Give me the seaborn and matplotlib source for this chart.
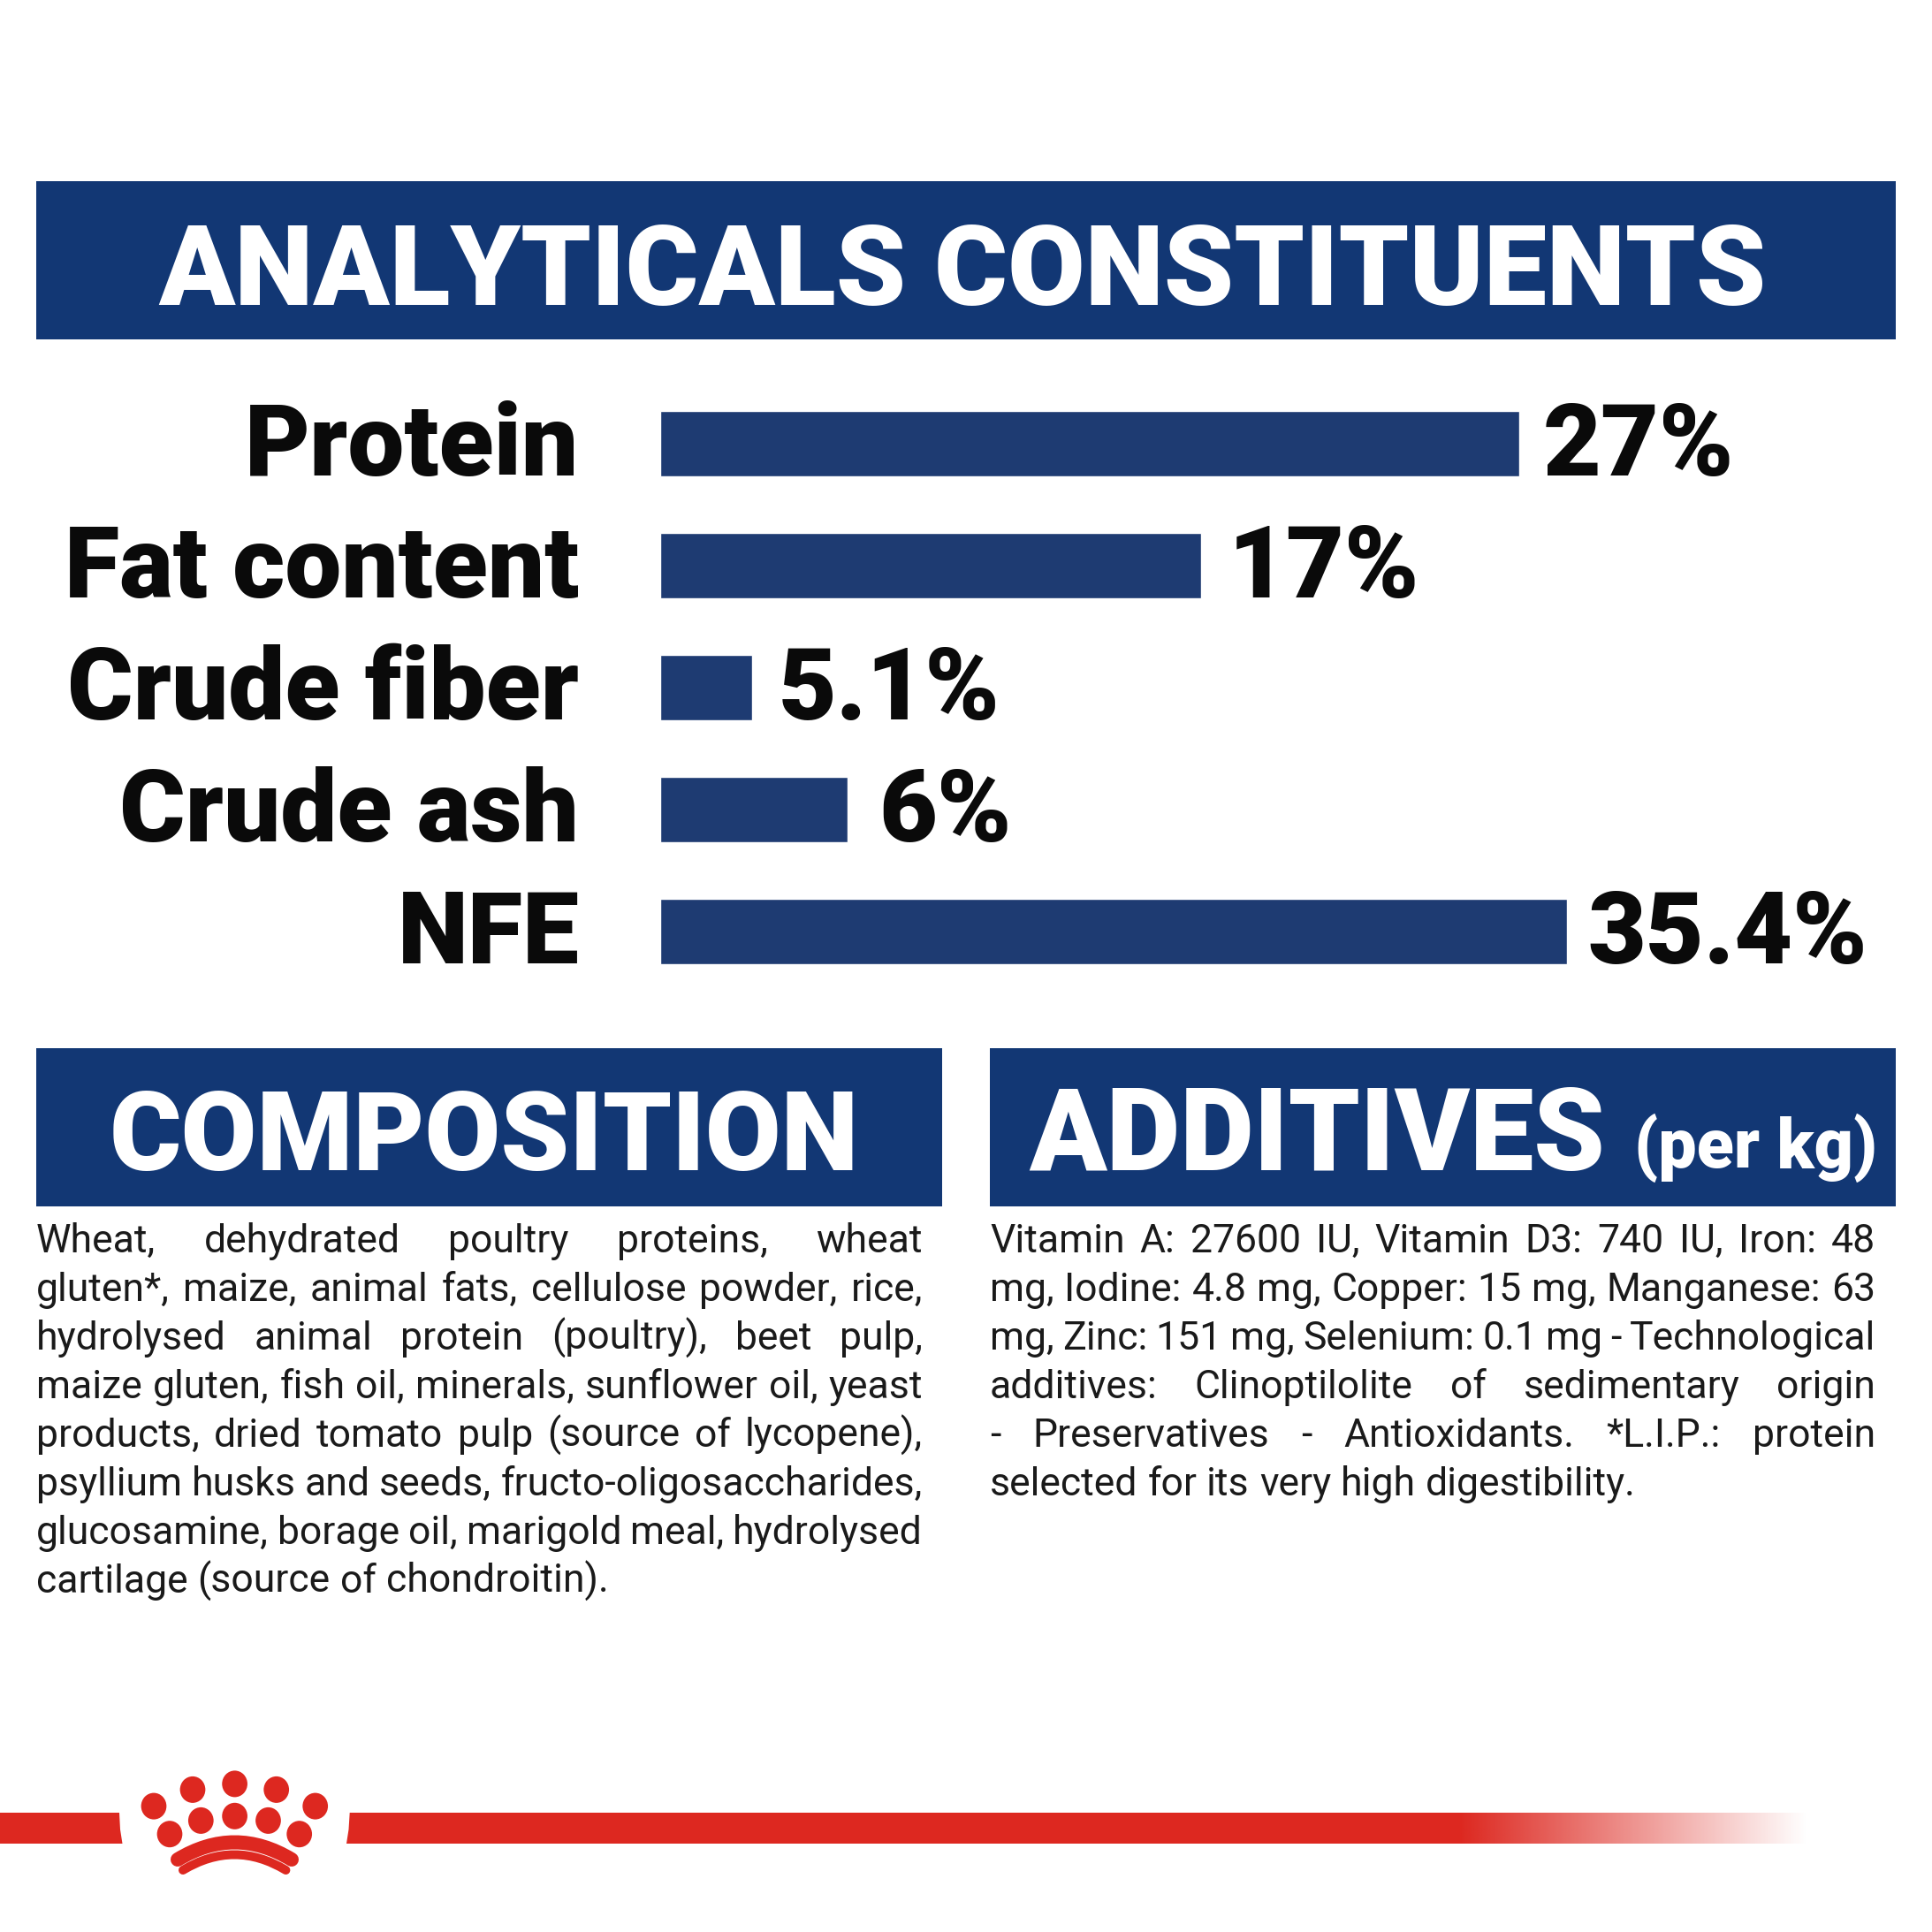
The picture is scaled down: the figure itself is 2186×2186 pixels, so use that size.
#!/usr/bin/env python3
"""Analytical constituents panel: bar chart, headers, justified ingredient text, crown logo."""
import matplotlib
matplotlib.use("Agg")
import matplotlib.pyplot as plt
import numpy as np
import pandas as pd
import seaborn as sns
from matplotlib.patches import Ellipse, PathPatch, Polygon, Rectangle
from matplotlib.path import Path
from matplotlib.transforms import ScaledTranslation

SIZE = 2186
NAVY = "#123774"
BAR_COLOR = "#1E3B72"
RED = "#DD2820"
INK = "#0A0A0A"

TITLE = "ANALYTICALS CONSTITUENTS"
CATEGORIES = ["Protein", "Fat content", "Crude fiber", "Crude ash", "NFE"]
# the drawn bars do not follow the printed percentages, so both are kept
BAR_LENGTHS = [27.0, 17.0, 2.9, 5.9, 28.5]
VALUE_LABELS = ["27%", "17%", "5.1%", "6%", "35.4%"]
LABEL_PADS = [19, 22, 21, 25, 17]

COMPOSITION = [
    "Wheat, dehydrated poultry proteins, wheat",
    "gluten*, maize, animal fats, cellulose powder, rice,",
    "hydrolysed animal protein (poultry), beet pulp,",
    "maize gluten, fish oil, minerals, sunflower oil, yeast",
    "products, dried tomato pulp (source of lycopene),",
    "psyllium husks and seeds, fructo-oligosaccharides,",
    "glucosamine, borage oil, marigold meal, hydrolysed",
    "cartilage (source of chondroitin).",
]
ADDITIVES = [
    "Vitamin A: 27600 IU, Vitamin D3: 740 IU, Iron: 48",
    "mg, Iodine: 4.8 mg, Copper: 15 mg, Manganese: 63",
    "mg, Zinc: 151 mg, Selenium: 0.1 mg - Technological",
    "additives: Clinoptilolite of sedimentary origin",
    "- Preservatives - Antioxidants. *L.I.P.: protein",
    "selected for its very high digestibility.",
]

# logo geometry, in image pixels
CROWN_DOTS = [
    (265.6, 2018.4), (218, 2024.9), (312.7, 2024.9), (174, 2043.6), (356.7, 2043.6),
    (265.6, 2054.8), (227.3, 2059.9), (303.5, 2059.9), (192, 2075.2), (338.7, 2075.2),
]


def justified(deco, renderer, lines, x0, x1, baseline, pitch, font):
    """Place each line word by word, stretching the gaps; the last line stays natural."""
    probe = deco.text(0, 0, "a a", **font)
    spaced = probe.get_window_extent(renderer).width
    probe.set_text("aa")
    space = spaced - probe.get_window_extent(renderer).width
    probe.remove()
    for i, line in enumerate(lines):
        words = [deco.text(0, 0, w, va="baseline", **font) for w in line.split()]
        widths = [w.get_window_extent(renderer).width for w in words]
        gap = space if i == len(lines) - 1 else (x1 - x0 - sum(widths)) / (len(words) - 1)
        x = x0
        for word, width in zip(words, widths):
            word.set_position((x, baseline + i * pitch))
            x += width + gap


def main():
    sns.set_theme(style="white")
    plt.rcParams["font.family"] = ["Roboto", "DejaVu Sans"]

    fig = plt.figure(figsize=(SIZE / 100, SIZE / 100), dpi=100, facecolor="white")

    # full-canvas layer in image pixels, for headers, text and logo
    deco = fig.add_axes([0, 0, 1, 1])
    deco.set_xlim(0, SIZE)
    deco.set_ylim(SIZE, 0)
    deco.axis("off")

    for x0, y0, x1, y1 in [(41, 205, 2145, 384), (41, 1186, 1066, 1365), (1120, 1186, 2145, 1365)]:
        deco.add_patch(Rectangle((x0, y0), x1 - x0, y1 - y0, color=NAVY, lw=0))

    head = dict(color="white", fontweight="black", va="baseline")
    deco.text(1089, 345, TITLE, fontsize=91.4, ha="center", **head)
    deco.text(548, 1324, "COMPOSITION", fontsize=89.6, ha="center", **head)
    deco.text(1164, 1324, "ADDITIVES", fontsize=92.8, ha="left", **head)
    deco.text(1849, 1321, "(per kg)", fontsize=55.5, ha="left", **head)

    # bars: 36 image pixels per unit, rows 138 pixels apart
    df = pd.DataFrame({"category": CATEGORIES, "length": BAR_LENGTHS})
    ax = fig.add_axes([747 / SIZE, 1 - 1123 / SIZE, 1439 / SIZE, 690 / SIZE])
    ax.patch.set_alpha(0)
    sns.barplot(data=df, x="length", y="category", order=CATEGORIES, orient="h",
                color=BAR_COLOR, saturation=1, width=0.535, ax=ax)
    ax.set_xlim(0, 1439 / 36)
    ax.set(xlabel=None, ylabel=None, xticks=[])
    sns.despine(ax=ax, left=True, bottom=True)
    ax.tick_params(axis="y", length=0, pad=66)
    lift = ScaledTranslation(0, 4.5 / 72, fig.dpi_scale_trans)
    for label in ax.get_yticklabels():
        label.set(fontsize=82, fontweight="black", color=INK, va="center_baseline")
        label.set_transform(label.get_transform() + lift)
    values = ax.bar_label(ax.containers[0], labels=VALUE_LABELS, fontsize=82,
                          fontweight="black", color=INK)
    for value, pad in zip(values, LABEL_PADS):
        value.set_va("center_baseline")
        value.xyann = (pad, 4.5)

    renderer = fig.canvas.get_renderer()
    body = dict(fontsize=32, color="#1A1A1A")
    justified(deco, renderer, COMPOSITION, 41, 1044, 1417, 55, body)
    justified(deco, renderer, ADDITIVES, 1120, 2122, 1417, 55, body)

    # red rule with the gap for the crown, fading out on the right
    deco.add_patch(Polygon([(0, 2051), (135, 2051), (136, 2070), (138.5, 2086), (0, 2086)],
                           color=RED, lw=0))
    deco.add_patch(Polygon([(395.7, 2051), (1654, 2051), (1654, 2086), (392, 2086), (394.5, 2070)],
                           color=RED, lw=0))
    fade = np.ones((1, 256, 4))
    fade[..., :3] = matplotlib.colors.to_rgb(RED)
    fade[..., 3] = np.linspace(1, 0, 256)
    deco.imshow(fade, extent=(1653, 2045, 2086, 2051), aspect="auto", zorder=2)
    deco.set_xlim(0, SIZE)
    deco.set_ylim(SIZE, 0)

    for xy in CROWN_DOTS:
        deco.add_patch(Ellipse(xy, 28.7, 30, color=RED, lw=0))
    for (x0, x1, y_end, y_ctrl, width) in [(201, 330, 2104, 2065, 16), (207, 323.4, 2116, 2081, 10)]:
        arc = Path([(x0, y_end), ((x0 + x1) / 2, y_ctrl), (x1, y_end)],
                   [Path.MOVETO, Path.CURVE3, Path.CURVE3])
        deco.add_patch(PathPatch(arc, fill=False, edgecolor=RED, lw=width * 0.72, capstyle="round"))

    fig.savefig("out.png", dpi=100, facecolor="white")


if __name__ == "__main__":
    main()
